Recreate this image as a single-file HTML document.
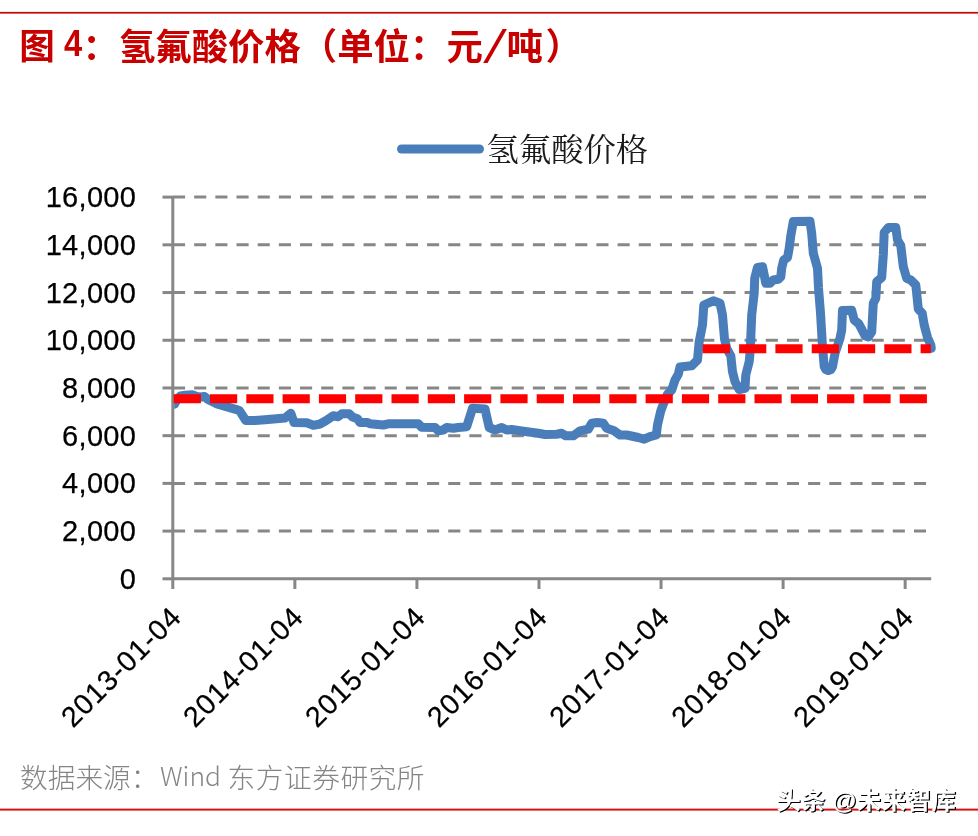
<!DOCTYPE html>
<html lang="zh-CN">
<head>
<meta charset="utf-8">
<title>图 4：氢氟酸价格（单位：元/吨）</title>
<style>
html,body{margin:0;padding:0;background:#fff;}
body{width:978px;height:836px;overflow:hidden;position:relative;font-family:"Liberation Sans","Noto Sans CJK SC",sans-serif;}
svg{position:absolute;left:0;top:0;display:block;}
.g{stroke:#878787;stroke-width:3;stroke-dasharray:12.1 9.07;fill:none;}
.ax{stroke:#878787;stroke-width:3;fill:none;}
.yl{font-family:"Liberation Sans",sans-serif;font-size:29px;letter-spacing:0.3px;fill:#000;stroke:#000;stroke-width:0.25px;text-anchor:end;}
.xl{font-family:"Liberation Sans",sans-serif;font-size:28.5px;letter-spacing:1.0px;fill:#000;stroke:#000;stroke-width:0.25px;text-anchor:end;}
.title{font-family:"Liberation Sans","Noto Sans CJK SC",sans-serif;font-weight:bold;font-size:36.4px;fill:#c80000;}
.slash{font-family:"Noto Sans CJK SC","Liberation Sans",sans-serif;font-weight:400;font-size:36px;fill:#c80000;}
.legend{font-family:"Liberation Serif","Noto Serif CJK SC",serif;font-size:32.3px;fill:#1a1a1a;}
.src{font-family:"Liberation Sans","Noto Sans CJK SC",sans-serif;font-weight:300;font-size:27.7px;fill:#858585;}
.lat{font-family:"Noto Sans CJK SC","Liberation Sans",sans-serif;font-weight:300;font-size:26.4px;}
.wm{letter-spacing:0.6px;font-family:"Liberation Sans","Noto Sans CJK SC",sans-serif;font-size:24.3px;font-weight:700;word-spacing:-1px;}
</style>
</head>
<body>
<svg width="978" height="836" viewBox="0 0 978 836">
<rect x="0" y="0" width="978" height="836" fill="#ffffff"/>
<!-- top & bottom rules -->
<rect x="0" y="11.9" width="978" height="1.7" fill="#cc0000"/>
<rect x="0" y="808.6" width="978" height="2" fill="#d41414"/>
<!-- title -->
<text x="19.3" y="59.2" class="title" style="font-size:35.6px">图 </text>
<text transform="translate(64,56.3) scale(0.9,1)" class="title">4</text>
<text x="82.5" y="60" class="title">：氢氟酸价格（单位：元</text>
<text transform="translate(482.5,57.3) scale(1.8,0.97)" class="slash">/</text>
<text x="506.5" y="60" class="title">吨<tspan dx="2.5">）</tspan></text>
<!-- legend -->
<line x1="401.5" y1="149" x2="479.5" y2="149" stroke="#4a7ebb" stroke-width="9" stroke-linecap="round"/>
<text x="486.6" y="160.5" class="legend">氢氟酸价格</text>
<!-- grid -->
<line x1="162.5" y1="578.80" x2="173" y2="578.80" class="ax"/>
<line x1="173" y1="531.09" x2="931" y2="531.09" class="g"/>
<line x1="162.5" y1="531.09" x2="173" y2="531.09" class="ax"/>
<line x1="173" y1="483.38" x2="931" y2="483.38" class="g"/>
<line x1="162.5" y1="483.38" x2="173" y2="483.38" class="ax"/>
<line x1="173" y1="435.67" x2="931" y2="435.67" class="g"/>
<line x1="162.5" y1="435.67" x2="173" y2="435.67" class="ax"/>
<line x1="173" y1="387.96" x2="931" y2="387.96" class="g"/>
<line x1="162.5" y1="387.96" x2="173" y2="387.96" class="ax"/>
<line x1="173" y1="340.25" x2="931" y2="340.25" class="g"/>
<line x1="162.5" y1="340.25" x2="173" y2="340.25" class="ax"/>
<line x1="173" y1="292.54" x2="931" y2="292.54" class="g"/>
<line x1="162.5" y1="292.54" x2="173" y2="292.54" class="ax"/>
<line x1="173" y1="244.83" x2="931" y2="244.83" class="g"/>
<line x1="162.5" y1="244.83" x2="173" y2="244.83" class="ax"/>
<line x1="173" y1="197.12" x2="931" y2="197.12" class="g"/>
<line x1="162.5" y1="197.12" x2="173" y2="197.12" class="ax"/>

<!-- axes -->
<line x1="172.8" y1="195.9" x2="172.8" y2="578.8" class="ax"/>
<line x1="171.5" y1="578.8" x2="931.2" y2="578.8" class="ax"/>
<line x1="172.80" y1="578.8" x2="172.80" y2="589" class="ax"/>
<line x1="294.86" y1="578.8" x2="294.86" y2="589" class="ax"/>
<line x1="416.92" y1="578.8" x2="416.92" y2="589" class="ax"/>
<line x1="538.98" y1="578.8" x2="538.98" y2="589" class="ax"/>
<line x1="661.04" y1="578.8" x2="661.04" y2="589" class="ax"/>
<line x1="783.10" y1="578.8" x2="783.10" y2="589" class="ax"/>
<line x1="905.16" y1="578.8" x2="905.16" y2="589" class="ax"/>

<!-- labels -->
<text x="136.2" y="588.90" class="yl">0</text>
<text x="136.2" y="541.19" class="yl">2,000</text>
<text x="136.2" y="493.48" class="yl">4,000</text>
<text x="136.2" y="445.77" class="yl">6,000</text>
<text x="136.2" y="398.06" class="yl">8,000</text>
<text x="136.2" y="350.35" class="yl">10,000</text>
<text x="136.2" y="302.64" class="yl">12,000</text>
<text x="136.2" y="254.93" class="yl">14,000</text>
<text x="136.2" y="207.22" class="yl">16,000</text>

<text transform="translate(183.10,618.6) rotate(-45)" class="xl">2013-01-04</text>
<text transform="translate(305.16,618.6) rotate(-45)" class="xl">2014-01-04</text>
<text transform="translate(427.22,618.6) rotate(-45)" class="xl">2015-01-04</text>
<text transform="translate(549.28,618.6) rotate(-45)" class="xl">2016-01-04</text>
<text transform="translate(671.34,618.6) rotate(-45)" class="xl">2017-01-04</text>
<text transform="translate(793.40,618.6) rotate(-45)" class="xl">2018-01-04</text>
<text transform="translate(915.46,618.6) rotate(-45)" class="xl">2019-01-04</text>

<!-- series -->
<defs><clipPath id="pc"><rect x="174.2" y="180" width="800" height="420"/></clipPath></defs>
<polyline points="174.4,404.2 177.0,399.5 180.3,396.0 185.4,395.3 192.6,394.8 196.7,396.5 200.3,397.0 204.4,396.4 208.0,399.5 216.1,403.6 226.3,406.7 235.6,409.3 239.6,410.8 245.8,420.5 255.0,420.6 265.0,419.7 285.0,418.0 290.8,413.3 294.0,422.5 306.7,422.8 313.3,425.3 320.0,424.0 325.8,420.8 333.3,415.8 338.3,416.7 341.7,413.8 349.2,413.8 352.5,417.0 357.5,418.7 360.0,422.5 367.5,422.5 370.0,423.8 383.3,425.0 388.3,423.8 418.3,423.8 421.7,427.2 435.0,427.5 438.3,430.8 443.3,430.0 446.7,427.5 453.3,428.3 458.3,427.5 466.7,426.7 472.5,408.3 485.0,409.0 489.2,427.5 495.0,430.0 501.7,427.5 506.7,430.0 511.7,429.5 523.3,431.3 538.3,433.3 545.0,434.5 556.7,434.2 561.7,433.3 565.8,435.8 573.3,435.8 580.0,430.8 588.3,429.2 591.7,423.3 597.5,422.5 603.3,423.3 606.7,428.3 614.2,430.8 620.0,435.0 626.7,435.0 638.3,437.5 644.2,439.2 650.0,436.7 656.3,435.0 657.5,425.0 660.8,410.8 663.3,404.2 667.5,394.2 671.7,390.0 675.0,380.0 678.3,374.2 680.0,367.0 691.7,365.8 697.5,360.0 699.2,341.7 702.5,325.0 703.8,305.0 713.3,300.8 720.0,303.3 722.5,315.0 724.5,339.0 726.7,348.3 730.8,355.8 732.5,371.7 735.0,381.7 739.2,389.5 745.0,388.3 745.8,375.0 749.2,361.7 750.3,350.0 751.7,315.0 754.2,293.3 754.7,278.3 757.5,267.5 762.5,266.7 764.2,275.0 765.8,283.3 770.0,283.3 773.3,280.0 778.3,279.2 780.8,276.7 781.7,268.3 783.7,260.0 787.5,257.5 789.2,248.3 790.8,235.8 793.3,221.5 810.0,221.3 811.7,233.3 813.3,253.3 817.5,268.3 818.5,288.0 820.5,313.0 822.5,346.7 824.2,366.7 825.8,369.6 828.3,370.6 830.8,369.6 832.5,366.7 835.0,353.3 840.0,338.3 841.7,330.0 842.5,310.5 851.7,310.3 854.2,320.0 858.8,323.8 861.7,329.2 865.0,335.8 868.3,337.0 871.7,332.0 873.3,303.3 875.8,298.3 876.7,281.7 881.7,277.5 883.3,255.0 884.2,232.5 888.3,227.5 895.8,227.5 897.5,240.0 900.8,245.8 903.3,266.7 906.7,278.3 910.8,280.0 915.8,285.0 918.3,309.0 922.2,313.3 924.2,325.0 927.5,337.5 930.8,345.0 931.3,348.3" fill="none" stroke="#4a7ebb" stroke-width="9" stroke-linejoin="round" stroke-linecap="round" clip-path="url(#pc)"/>
<!-- reference lines -->
<line x1="173.7" y1="398.8" x2="931" y2="398.8" stroke="#ff0000" stroke-width="9.1" stroke-dasharray="27.2 9.1"/>
<line x1="702.8" y1="348.8" x2="930.8" y2="348.8" stroke="#ff0000" stroke-width="9.1" stroke-dasharray="27.2 9.1"/>
<!-- source -->
<text x="20" y="788" class="src">数据来源：<tspan class="lat" x="160" y="786">Wind</tspan><tspan x="219.2" y="788" style="letter-spacing:0.55px"> 东方证券研究所</tspan></text>
<!-- watermark -->
<text x="777.6" y="809.8" class="wm" fill="#000">头条 @未来智库</text>
<text x="776.4" y="808.6" class="wm" fill="#fff">头条 @未来智库</text>
</svg>
</body>
</html>
